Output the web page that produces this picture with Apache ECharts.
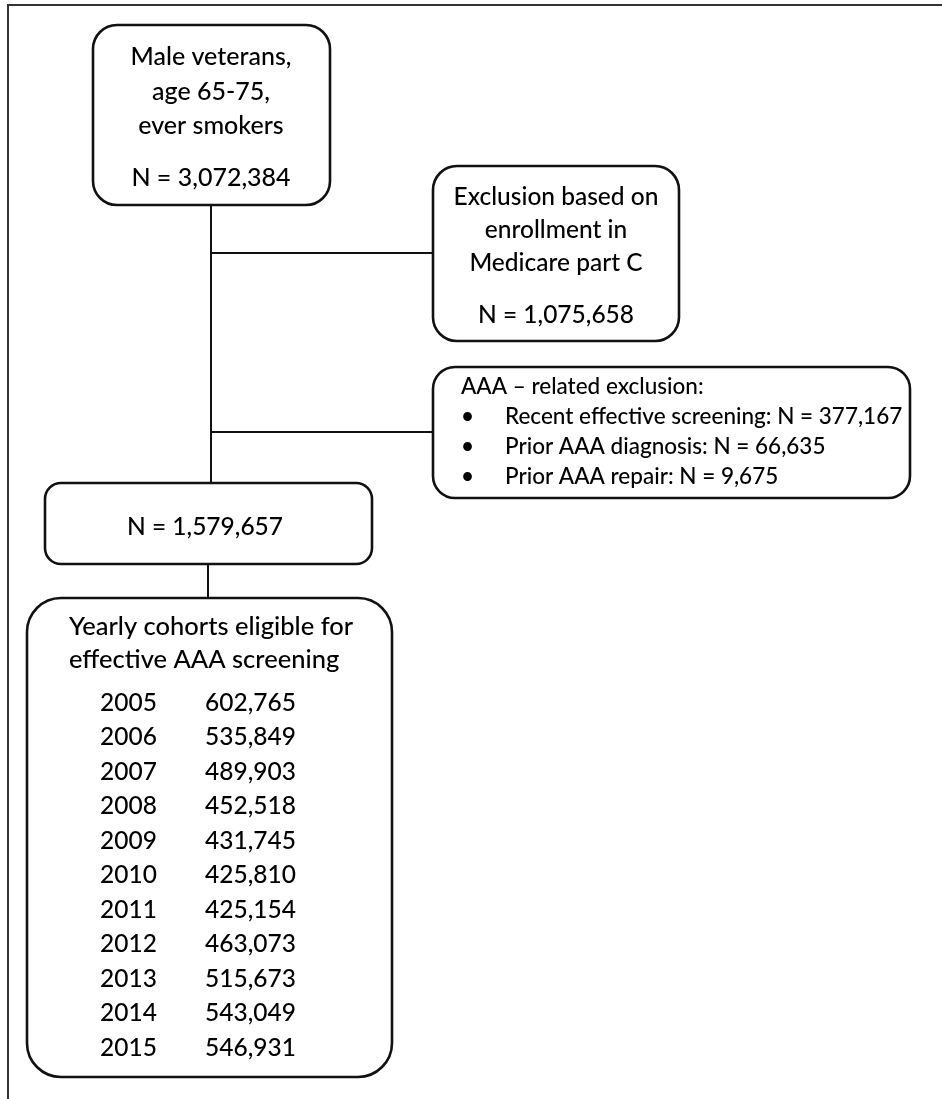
<!DOCTYPE html>
<html lang="en">

<head>
    <meta charset="UTF-8">
    <title>AAA screening cohort flowchart</title>
    <script src="https://cdn.jsdelivr.net/npm/echarts@6.0.0/dist/echarts.min.js"></script>
    <style>
        body { margin: 0; background: #fff; }
    </style>
</head>

<body>
    <div id="main" style="width: 942px;height:1099px;"></div>
    <script type="text/javascript">
        // chart content
        const startLines = ['Male veterans,', 'age 65-75,', 'ever smokers'];
        const startN = 3072384;
        const partCLines = ['Exclusion based on', 'enrollment in', 'Medicare part C'];
        const partCN = 1075658;
        const aaaTitle = 'AAA \u2013 related exclusion:';
        const aaaReasons = ['Recent effective screening', 'Prior AAA diagnosis', 'Prior AAA repair'];
        const aaaCounts = [377167, 66635, 9675];
        const remainingN = 1579657;
        const cohortTitle = ['Yearly cohorts eligible for', 'effective AAA screening'];
        const years = ['2005', '2006', '2007', '2008', '2009', '2010', '2011', '2012', '2013', '2014', '2015'];
        const cohortSizes = [602765, 535849, 489903, 452518, 431745, 425810, 425154, 463073, 515673, 543049, 546931];

        // layout (pixel units on hidden axes)
        const boxLayout = [
            [93, 25, 330, 205, 24],
            [433, 166, 679, 341, 24],
            [433, 367, 910, 498, 22],
            [45, 483, 372, 564, 16],
            [27, 598, 392, 1077, 34]
        ];
        const connectors = [
            [[211, 205], [211, 483]],
            [[211, 253], [433, 253]],
            [[211, 432], [433, 432]],
            [[208, 564], [208, 598]]
        ];
        const frame = [[8, 1099], [8, 5], [942, 5]];

        const fmt = (n) => n.toLocaleString('en-US');
        const FONT = 'Lato';

        // text items: [x, y, text, align, size]
        let texts = [];
        startLines.forEach((t, i) => texts.push([211, 57 + i * 34.5, t, 'center', 25]));
        texts.push([211, 178, 'N = ' + fmt(startN), 'center', 25]);
        partCLines.forEach((t, i) => texts.push([556, 197 + i * 33, t, 'center', 24.5]));
        texts.push([556, 315, 'N = ' + fmt(partCN), 'center', 24.5]);
        texts.push([461, 387, aaaTitle, 'left', 22.5]);
        aaaReasons.forEach((t, i) => {
            texts.push([461, 417 + i * 30, '\u2022', 'left', 22.5]);
            texts.push([505, 417 + i * 30, t + ': N = ' + fmt(aaaCounts[i]), 'left', 22.5]);
        });
        texts.push([205, 527, 'N = ' + fmt(remainingN), 'center', 24.5]);
        cohortTitle.forEach((t, i) => texts.push([69, 627 + i * 33, t, 'left', 25.5]));
        years.forEach((y, i) => {
            texts.push([100, 703 + i * 34.5, y, 'left', 24.5]);
            texts.push([205, 703 + i * 34.5, fmt(cohortSizes[i]), 'left', 24.5]);
        });

        let myChart = echarts.init(document.getElementById('main'));

        let options = {
            animation: false,
            grid: { left: 0, right: 0, top: 0, bottom: 0 },
            xAxis: { type: 'value', min: 0, max: 942, show: false },
            yAxis: { type: 'value', min: 0, max: 1099, inverse: true, show: false },
            series: [
                {
                    type: 'custom',
                    name: 'frame',
                    data: [0],
                    renderItem: (params, api) => ({
                        type: 'polyline',
                        shape: { points: frame.map(p => api.coord(p)) },
                        style: { stroke: '#333', lineWidth: 2, fill: null }
                    })
                },
                {
                    type: 'custom',
                    name: 'connectors',
                    data: connectors.map((c, i) => i),
                    renderItem: (params, api) => {
                        const c = connectors[params.dataIndex];
                        return {
                            type: 'polyline',
                            shape: { points: c.map(p => api.coord(p)) },
                            style: { stroke: '#111', lineWidth: 2, fill: null }
                        };
                    }
                },
                {
                    type: 'custom',
                    name: 'boxes',
                    data: boxLayout.map(b => b),
                    renderItem: (params, api) => {
                        const b = boxLayout[params.dataIndex];
                        const p0 = api.coord([b[0], b[1]]);
                        const p1 = api.coord([b[2], b[3]]);
                        return {
                            type: 'rect',
                            shape: { x: p0[0], y: p0[1], width: p1[0] - p0[0], height: p1[1] - p0[1], r: b[4] },
                            style: { stroke: '#111', lineWidth: 2.6, fill: '#fff' }
                        };
                    }
                },
                {
                    type: 'custom',
                    name: 'texts',
                    z: 5,
                    data: texts.map(t => t),
                    renderItem: (params, api) => {
                        const t = texts[params.dataIndex];
                        const p = api.coord([t[0], t[1]]);
                        return {
                            type: 'text',
                            style: {
                                x: p[0], y: p[1], text: t[2],
                                textAlign: t[3], textVerticalAlign: 'middle',
                                fontFamily: FONT, fontSize: t[4], fontWeight: 500, fill: '#000'
                            }
                        };
                    }
                }
            ]
        };

        myChart.setOption(options);
    </script>
</body>

</html>
